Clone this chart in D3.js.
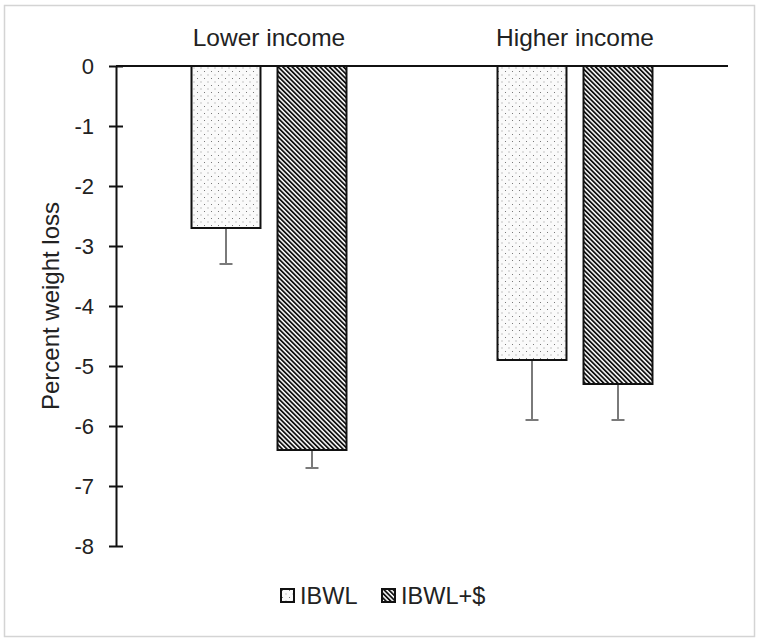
<!DOCTYPE html>
<html>
<head>
<meta charset="utf-8">
<script src="https://cdn.jsdelivr.net/npm/d3@7"></script>
<style>
  body { margin: 0; background: #fff; }
  text { font-family: "Liberation Sans", Arial, sans-serif; fill: #222; }
</style>
</head>
<body>
<div id="chart"></div>
<script>
// data
let categories = ["Lower income", "Higher income"];
let seriesNames = ["IBWL", "IBWL+$"];
let ibwl = [-2.7, -4.9];
let ibwlPlus = [-6.4, -5.3];
let ibwlErr = [0.6, 1.0];
let ibwlPlusErr = [0.3, 0.6];
let yTicks = [0, -1, -2, -3, -4, -5, -6, -7, -8];

let svgwidth = 759;
let svgheight = 641;

let svg = d3.select("#chart")
    .append("svg")
    .attr("width", svgwidth)
    .attr("height", svgheight);

// thin frame round the picture
svg.append("rect")
    .attr("x", 4.5).attr("y", 5.5)
    .attr("width", 750).attr("height", 631)
    .attr("fill", "none")
    .attr("stroke", "#d4d4d4")
    .attr("stroke-width", 1.5);

let defs = svg.append("defs");

// dotted fill
let dots = defs.append("pattern")
    .attr("id", "dots")
    .attr("patternUnits", "userSpaceOnUse")
    .attr("width", 7).attr("height", 7);
dots.append("rect").attr("width", 7).attr("height", 7).attr("fill", "#fafafa");
dots.append("rect").attr("x", 1).attr("y", 1).attr("width", 1).attr("height", 1).attr("fill", "#7a7a7a");
dots.append("rect").attr("x", 4.5).attr("y", 4.5).attr("width", 1).attr("height", 1).attr("fill", "#909090");

// dense backslash hatch
let hatch = defs.append("pattern")
    .attr("id", "hatch")
    .attr("patternUnits", "userSpaceOnUse")
    .attr("width", 3.3).attr("height", 10)
    .attr("patternTransform", "rotate(-45)");
hatch.append("rect").attr("width", 3.3).attr("height", 10).attr("fill", "#fff");
hatch.append("rect").attr("width", 1.8).attr("height", 10).attr("fill", "#111");

let fills = ["url(#dots)", "url(#hatch)"];

let x0 = d3.scaleBand()
    .domain(categories)
    .range([116, 728]);

let x1 = d3.scaleBand()
    .domain(seriesNames)
    .range([0, x0.bandwidth()])
    .paddingInner(0.198)
    .paddingOuter(0.878);

let y = d3.scaleLinear()
    .domain([-8, 0])
    .range([546, 66]);

let rows = [];
categories.forEach(function(c, i) {
    rows.push({cat: c, s: seriesNames[0], v: ibwl[i], e: ibwlErr[i], f: fills[0]});
    rows.push({cat: c, s: seriesNames[1], v: ibwlPlus[i], e: ibwlPlusErr[i], f: fills[1]});
});

// bars
svg.selectAll("rect.bar")
    .data(rows)
    .enter()
    .append("rect")
    .attr("class", "bar")
    .attr("x", d => x0(d.cat) + x1(d.s))
    .attr("y", y(0))
    .attr("width", x1.bandwidth())
    .attr("height", d => y(d.v) - y(0))
    .attr("fill", d => d.f)
    .attr("stroke", "#111")
    .attr("stroke-width", 2);

// error bars (downward only)
let errs = svg.append("g")
    .attr("stroke", "#7a7a7a")
    .attr("stroke-width", 2);

errs.selectAll("line.stem")
    .data(rows)
    .enter()
    .append("line")
    .attr("x1", d => x0(d.cat) + x1(d.s) + x1.bandwidth() / 2)
    .attr("x2", d => x0(d.cat) + x1(d.s) + x1.bandwidth() / 2)
    .attr("y1", d => y(d.v) + 1)
    .attr("y2", d => y(d.v - d.e));

errs.selectAll("line.cap")
    .data(rows)
    .enter()
    .append("line")
    .attr("x1", d => x0(d.cat) + x1(d.s) + x1.bandwidth() / 2 - 6.5)
    .attr("x2", d => x0(d.cat) + x1(d.s) + x1.bandwidth() / 2 + 6.5)
    .attr("y1", d => y(d.v - d.e))
    .attr("y2", d => y(d.v - d.e));

// zero line
svg.append("line")
    .attr("x1", 116).attr("x2", 728)
    .attr("y1", y(0)).attr("y2", y(0))
    .attr("stroke", "#111")
    .attr("stroke-width", 2);

// y axis
let leftAxis = d3.axisLeft(y)
    .tickValues(yTicks)
    .tickFormat(d3.format("d"))
    .tickSizeInner(7)
    .tickSizeOuter(0)
    .tickPadding(15);

let yAxis = svg.append("g")
    .attr("transform", "translate(116, 0)")
    .call(leftAxis);

yAxis.select(".domain").attr("stroke", "#111").attr("stroke-width", 2);
yAxis.selectAll(".tick line")
    .attr("x1", -7).attr("x2", 7)
    .attr("stroke", "#111").attr("stroke-width", 2);
yAxis.selectAll(".tick text")
    .attr("font-family", "Liberation Sans, Arial, sans-serif")
    .attr("font-size", 22)
    .attr("fill", "#222")
    .attr("dy", "0.36em")
    .text(d => d === 0 ? "0" : "-" + Math.abs(d));

// category labels on top
svg.selectAll("text.cat")
    .data(categories)
    .enter()
    .append("text")
    .attr("class", "cat")
    .attr("x", d => x0(d) + x0.bandwidth() / 2)
    .attr("y", 46)
    .attr("text-anchor", "middle")
    .attr("font-size", 24.5)
    .text(d => d);

// y axis title
svg.append("text")
    .attr("transform", "translate(59, 306) rotate(-90)")
    .attr("text-anchor", "middle")
    .attr("font-size", 24)
    .text("Percent weight loss");

// legend
let legendX = [281, 382];
let legend = svg.selectAll("g.legend")
    .data(seriesNames)
    .enter()
    .append("g")
    .attr("class", "legend")
    .attr("transform", (d, i) => `translate(${legendX[i]}, 589)`);

legend.append("rect")
    .attr("width", 13).attr("height", 13)
    .attr("fill", (d, i) => fills[i])
    .attr("stroke", "#111")
    .attr("stroke-width", 2);

legend.append("text")
    .attr("x", 19)
    .attr("y", 15)
    .attr("font-size", 23.5)
    .text(d => d);
</script>
</body>
</html>
